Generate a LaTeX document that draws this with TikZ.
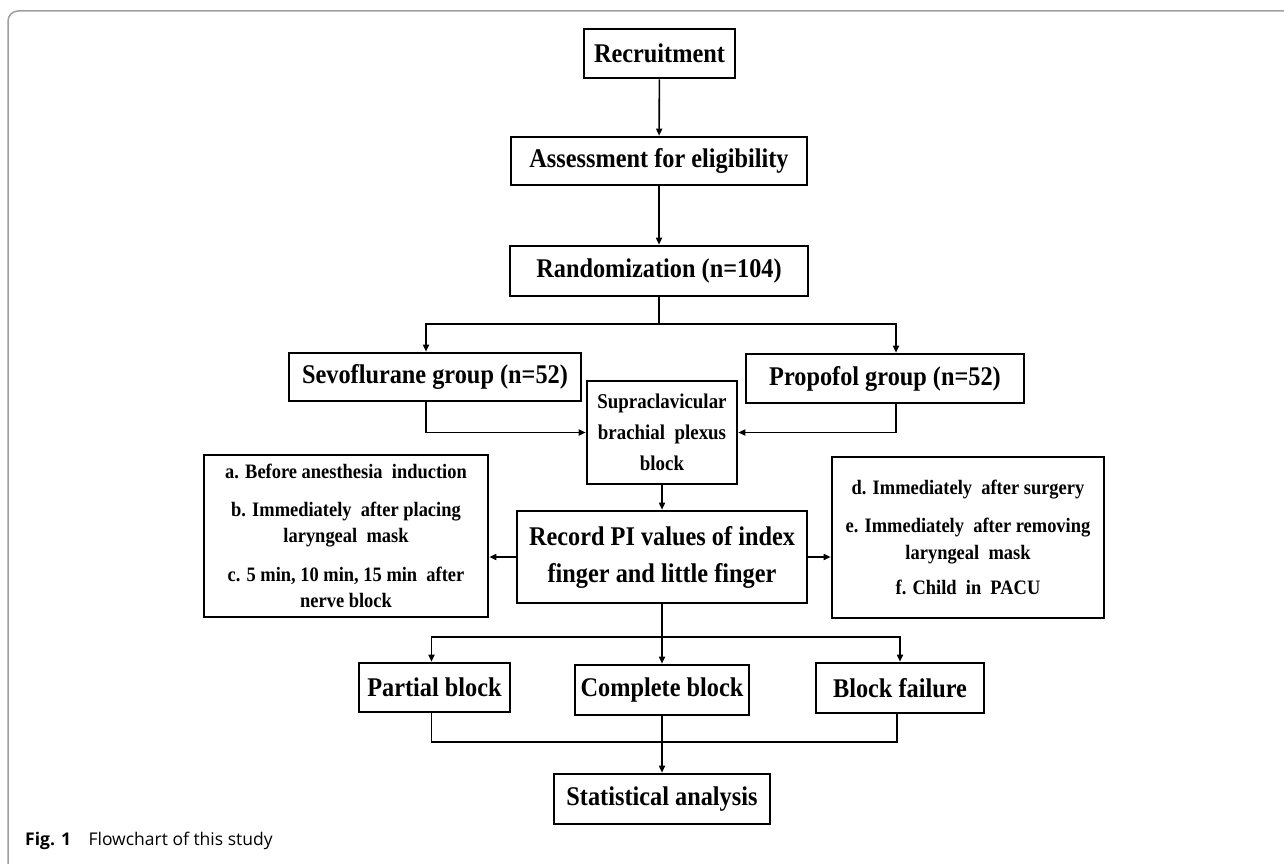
\documentclass[tikz,border=0pt]{standalone}
\usepackage{fontspec}
\setmainfont{Liberation Serif}
\newfontfamily\tb{Liberation Serif}[FakeStretch=0.9]
\newfontfamily\capfont{Open Sans}
\usetikzlibrary{arrows.meta}
\newcommand\bigboxfont{\tb\bfseries\fontsize{27}{37}\selectfont}
\newcommand\supfont{\tb\bfseries\fontsize{21}{31}\selectfont}
\newcommand\sidefont{\tb\bfseries\fontsize{20.5}{26.5}\selectfont}
\begin{document}
\begin{tikzpicture}[x=1pt,y=-1pt,
  box/.style={draw=black, line width=2.6pt, inner sep=0pt, align=center, font=\bigboxfont},
  conn/.style={line width=1.6pt},
  arr/.style={conn, -{Triangle[length=7pt,width=6pt]}}]
\useasboundingbox (0,0) rectangle (1284,864);
% frame
\draw[gray!75, line width=1.5pt, rounded corners=10pt] (8,880) -- (8,11) -- (1300,11);
% nodes
\node[box, minimum width=151, minimum height=49] (rec) at (659.5,53.5) {Recruitment};
\node[box, minimum width=296, minimum height=48] (ass) at (659,161) {Assessment for eligibility};
\node[box, minimum width=298, minimum height=50] (rand) at (659,271) {Randomization (n=104)};
\node[box, minimum width=292, minimum height=48] (sevo) at (435,377) {Sevoflurane group (n=52)};
\node[box, minimum width=278, minimum height=49] (prop) at (885,378.5) {Propofol group (n=52)};
\node[box, font=\supfont, minimum width=150, minimum height=103] (supra) at (662,432.5) {Supraclavicular\\brachial\ \ plexus\\block};
\node[box, minimum width=290, minimum height=92] (record) at (662,557) {Record PI values of index\\finger and little finger};
\node[box, font=\sidefont, minimum width=284, minimum height=162] (left) at (346,536)
  {a. Before anesthesia\ \ induction\\[11pt]b. Immediately\ \ after placing\\laryngeal\ \ mask\\[12pt]c. 5 min, 10 min, 15 min\ \ after\\nerve block};
\node[box, font=\sidefont, minimum width=272, minimum height=161] (right) at (968,537.5)
  {d. Immediately\ \ after surgery\\[12pt]e. Immediately\ \ after removing\\laryngeal\ \ mask\\[9pt]f. Child\ \ in\ \ PACU};
\node[box, minimum width=151, minimum height=49] (part) at (434.5,687.5) {Partial block};
\node[box, minimum width=174, minimum height=50] (comp) at (662,690) {Complete block};
\node[box, minimum width=168, minimum height=50] (fail) at (900,688) {Block failure};
\node[box, minimum width=216, minimum height=50] (stat) at (662,799) {Statistical analysis};
\node[anchor=west, inner sep=0pt, font=\capfont\fontsize{17.5}{20}\selectfont] (cap) at (25,841) {\textbf{Fig. 1}\quad Flowchart of this study};
% junctions
\coordinate (j1) at (659,324);
\coordinate (j2) at (662,637);
\coordinate (j3) at (662,742);
% connectors
\draw[arr] (rec) -- (ass);
\draw[arr] (ass) -- (rand);
\draw[conn] (rand.south) -- (j1);
\draw[arr] (j1) -| ([xshift=-9pt]sevo.north);
\draw[arr] (j1) -| ([xshift=11pt]prop.north);
\draw[arr] ([xshift=-9pt]sevo.south) |- (supra.west);
\draw[arr] ([xshift=11pt]prop.south) |- (supra.east);
\draw[arr] (supra) -- (record);
\draw[arr] (record.west) -- (record.west -| left.east);
\draw[arr] (record.east) -- (record.east -| right.west);
\draw[conn] (record.south) -- (j2);
\draw[arr] (j2) -| ([xshift=-3pt]part.north);
\draw[arr] (j2) -| (fail.north);
\draw[arr] (j2) -- (comp.north);
\draw[conn] ([xshift=-3pt]part.south) |- (j3) -| ([xshift=-3pt]fail.south);
\draw[arr] (comp.south) -- (stat.north);
\end{tikzpicture}
\end{document}
